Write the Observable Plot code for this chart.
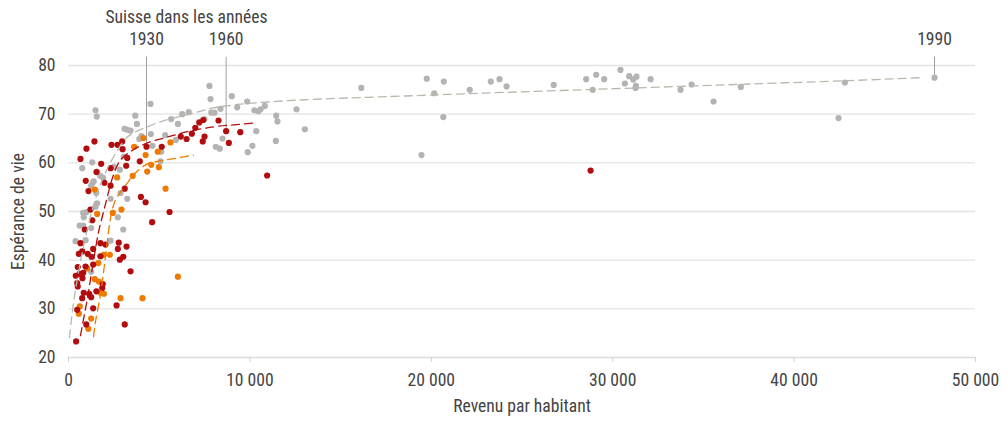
<!DOCTYPE html>
<html><head><meta charset="utf-8">
<script src="https://cdn.jsdelivr.net/npm/d3@7"></script>
<script src="https://cdn.jsdelivr.net/npm/@observablehq/plot@0.6"></script>
<style>
html,body{margin:0;padding:0;background:#fff;}
#chart svg{display:block;}
</style>
</head><body><div id="chart"></div>
<script>
// Revenu par habitant, espérance de vie — points gris
const pointsGris = [
[1490,70.8],[1560,69.5],[3680,69.7],[4520,72.1],[3770,68.0],[3090,67.0],[3240,66.8],[3420,66.6],
[4020,65.5],[3900,64.9],[4540,65.9],[4630,63.5],[5110,62.3],[5330,65.7],[5660,69.0],[6030,68.0],
[6270,70.0],[6630,70.4],[5920,64.7],[3050,61.3],[7770,75.8],[7830,73.1],[9000,73.7],[9850,72.6],
[7500,69.0],[7870,70.3],[8050,70.3],[8380,71.1],[9300,71.4],[10250,70.8],[10470,70.6],[10590,71.0],
[10820,71.7],[11450,69.7],[11520,68.5],[12570,71.0],[13030,66.9],[10350,66.5],[8490,65.0],[8120,63.3],
[8340,62.9],[10140,63.5],[9880,62.2],[11430,64.5],[16140,75.4],[19750,77.3],[20160,74.3],[20690,76.7],
[20660,69.4],[19460,61.6],[22120,75.0],[23280,76.7],[23760,77.2],[24150,75.7],[26750,76.0],[28540,77.2],
[29090,78.1],[28900,75.0],[29530,77.2],[30430,79.1],[30670,76.3],[30910,77.8],[31130,77.1],[31310,77.7],
[31280,75.8],[31260,75.4],[32090,77.2],[33740,75.0],[34350,76.1],[35560,72.6],[37060,75.6],[42800,76.5],
[42450,69.2],[47740,77.5],[1360,56.0],[1250,55.3],[1530,53.8],[2320,52.6],[2870,53.8],[3240,52.6],
[810,49.7],[990,49.9],[840,48.8],[610,47.1],[810,47.1],[1250,46.6],[2720,48.8],[3020,46.3],
[390,43.9],[940,44.1],[2320,44.0],[1250,37.6],[760,58.9],[1310,60.1],[2500,59.2],[2830,58.6],
[1580,58.2],[1760,57.3],[1910,56.9],[1390,56.2],[5070,60.3],[1490,51.0],[1580,51.7]
];
// points rouges
const pointsRouges = [
[1430,64.4],[990,62.9],[2370,63.7],[2700,63.7],[2960,64.4],[2980,62.8],[4300,63.3],[6190,65.4],
[6510,64.9],[660,60.8],[3240,61.0],[8270,68.7],[7210,68.3],[6990,67.2],[7430,68.8],[8690,66.5],
[9470,66.3],[6800,66.0],[7500,65.4],[7400,64.4],[8840,64.1],[28780,58.4],[10950,57.4],[1800,59.8],
[3930,60.3],[1540,58.1],[2320,58.9],[3180,59.4],[950,56.3],[1100,54.2],[1980,55.9],[2320,55.3],
[3100,54.7],[3990,53.0],[4250,51.9],[5570,49.9],[4610,47.8],[1210,50.4],[1310,48.2],[660,43.5],
[900,46.3],[755,41.8],[1360,42.3],[1760,43.5],[2040,43.2],[2770,43.6],[2720,42.3],[3200,42.8],
[3020,40.7],[1270,40.7],[570,41.3],[1060,41.3],[1760,40.8],[2830,40.1],[510,38.6],[940,38.7],
[1360,39.1],[3420,37.7],[400,36.8],[610,37.2],[810,37.4],[770,36.3],[480,35.3],[510,34.6],
[1890,35.1],[1860,34.3],[1540,33.6],[840,33.3],[1140,33.1],[1250,32.4],[755,32.2],[2650,30.7],
[1360,30.1],[480,29.8],[980,26.8],[3100,26.8],[420,23.3],[5140,63.3]
];
// points orange
const pointsOrange = [
[4130,65.1],[3620,63.3],[4250,61.6],[5620,64.2],[4920,62.3],[4560,59.6],[4340,58.2],[4980,59.1],
[2680,57.0],[3540,57.3],[5350,54.7],[1450,54.5],[2920,50.4],[2440,49.7],[1580,49.5],[1950,41.1],
[2280,41.1],[1640,39.4],[1030,38.3],[1450,36.1],[1670,35.6],[1760,33.3],[1950,33.1],[6030,36.6],
[2870,32.2],[4080,32.2],[620,30.5],[570,29.0],[1250,28.0],[1090,25.9]
];
// courbes de tendance
const tendanceGrise = [
[50,24.1],[150,27.4],[330,32.6],[660,39.7],[1100,47.3],[1540,53.2],[1980,57.5],[2480,61.2],
[3250,65.3],[4350,67.4],[5460,68.9],[6560,69.9],[7990,71.3],[9100,71.9],[10970,72.5],[13510,73.05],
[17200,73.55],[22710,74.3],[28230,75.0],[33740,75.7],[37600,76.2],[43110,76.9],[46970,77.5]
];
const tendanceRouge = [
[660,24.5],[855,28.4],[1050,32.3],[1210,36.0],[1380,39.9],[1545,43.6],[1710,46.7],[1930,49.9],
[2150,53.2],[2480,57.5],[2870,60.6],[3580,62.7],[4360,64.1],[5460,65.3],[6560,66.4],[7990,67.4],
[9100,67.8],[10310,68.2]
];
const tendanceOrange = [
[1380,24.3],[1490,27.4],[1760,32.9],[1980,38.9],[2205,45.8],[2370,49.7],[2590,52.4],[2870,54.0],
[3250,55.9],[3580,57.5],[4350,59.8],[5070,60.4],[6010,61.0],[6890,61.6]
];
// Suisse
const suisseAnnees = ["1930","1960","1990"];
const suisseRevenu = [4300,8690,47740];
const suisseVie = [63.3,66.5,77.5];
const titreSuisse = "Suisse dans les années";
const xTicks = [0,10000,20000,30000,40000,50000];
const yTicks = [20,30,40,50,60,70,80];
const xLabel = "Revenu par habitant";
const yLabel = "Espérance de vie";

const suisse = suisseAnnees.map((a,i)=>({annee:a, x:suisseRevenu[i], y:suisseVie[i]}));
const fmt = d => d3.format(",")(d).replace(/,/g, " ");
const FONT = "'Liberation Sans Narrow', 'Roboto Condensed', Roboto, sans-serif";
const FS = 17.6;
const TXT = "#444";
const dash = "8,5";

const chart = Plot.plot({
  width: 1006, height: 423,
  marginLeft: 68, marginRight: 31, marginTop: 65, marginBottom: 66,
  style: {fontFamily: FONT, fontSize: FS + "px", color: TXT, background: "#fff"},
  x: {domain: [0, 50000]},
  y: {domain: [20, 80]},
  marks: [
    Plot.gridY(yTicks.filter(d => d > 20), {stroke: "#e3e3e3", strokeOpacity: 1, strokeWidth: 1.3}),
    Plot.ruleY([20], {stroke: "#dcdcdc", strokeWidth: 1.3}),
    Plot.axisX(xTicks, {tickFormat: fmt, tickSize: 5, tickPadding: 11, stroke: "#d0d0d0", label: null, fill: TXT}),
    Plot.axisY(yTicks, {tickSize: 0, tickPadding: 13, label: null, fill: TXT}),
    Plot.text([xLabel], {frameAnchor: "bottom", lineAnchor: "middle", textAnchor: "middle", dy: 49, fill: TXT, fontSize: FS}),
    Plot.text([yLabel], {frameAnchor: "left", lineAnchor: "middle", textAnchor: "middle", dx: -50, rotate: -90, fill: TXT, fontSize: FS}),
    Plot.ruleX(suisse, {x: "x", y1: "y", y2: 81.7, stroke: "#a0a0a0", strokeWidth: 1}),
    Plot.text(suisse, {x: "x", text: "annee", frameAnchor: "top", dy: -33, fill: TXT, fontSize: FS}),
    Plot.text([titreSuisse], {x: 6500, frameAnchor: "top", dy: -55, fill: TXT, fontSize: FS}),
    Plot.dot(pointsGris, {x: d => d[0], y: d => d[1], r: 3.1, fill: "#b3b3b3", stroke: "none"}),
    Plot.dot(pointsOrange, {x: d => d[0], y: d => d[1], r: 3.1, fill: "#ef7a00", stroke: "none"}),
    Plot.dot(pointsRouges, {x: d => d[0], y: d => d[1], r: 3.1, fill: "#b10d0f", stroke: "none"}),
    Plot.line(tendanceGrise, {x: d => d[0], y: d => d[1], stroke: "#b8b8ad", strokeWidth: 1.3, strokeDasharray: dash, curve: "catmull-rom"}),
    Plot.line(tendanceRouge, {x: d => d[0], y: d => d[1], stroke: "#b10d0f", strokeWidth: 1.3, strokeDasharray: dash, curve: "catmull-rom"}),
    Plot.line(tendanceOrange, {x: d => d[0], y: d => d[1], stroke: "#ef7a00", strokeWidth: 1.3, strokeDasharray: dash, curve: "catmull-rom"})
  ]
});
document.getElementById("chart").appendChild(chart);
</script>
</body></html>
